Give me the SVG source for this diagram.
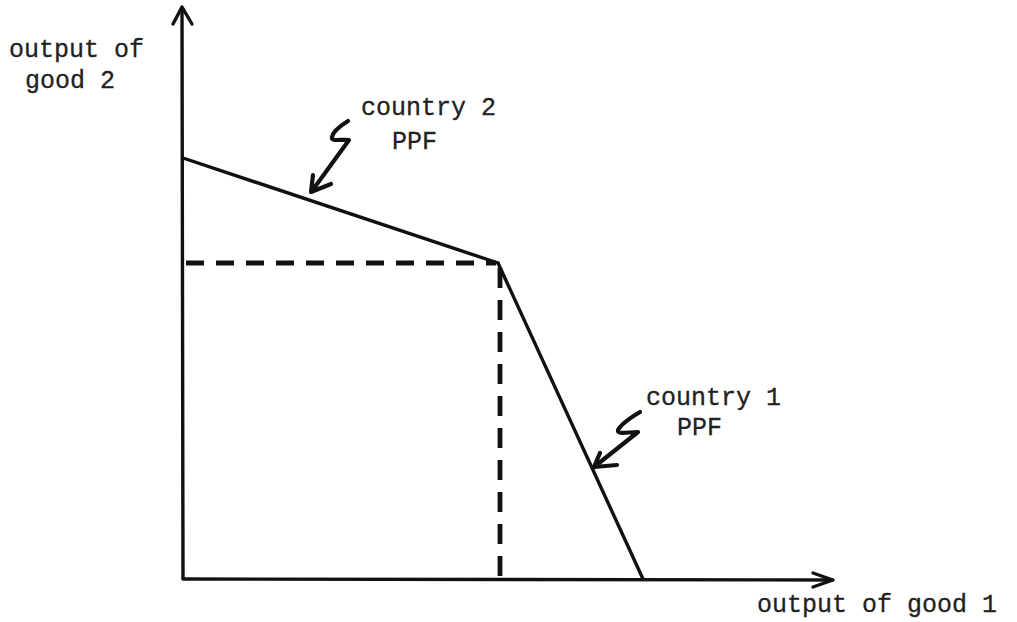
<svg xmlns="http://www.w3.org/2000/svg" width="1017" height="622" viewBox="0 0 1017 622">
<style>
.ln{fill:none;stroke:#111;stroke-width:3.4;stroke-linecap:round;stroke-linejoin:round}
.pt{fill:none;stroke:#111;stroke-width:4.2;stroke-linecap:round;stroke-linejoin:round}
.ds{fill:none;stroke:#111;stroke-width:4.8}
.tx{font-family:"Liberation Mono","Courier New",monospace;font-size:25px;fill:#222;stroke:#222;stroke-width:0.3}
</style>
<rect width="1017" height="622" fill="#fff"/>
<g id="connectors">
<g id="y-axis">
<path class="ln" d="M183,578 L182,8"/>
<path class="ln" d="M173,24 L182,7 L192,24"/>
</g>
<g id="x-axis">
<path class="ln" d="M183,579 L832,580"/>
<path class="ln" d="M813,573 L833,580 L813,587"/>
</g>
<g id="country2-ppf-line"><path class="ln" d="M183,158 L498,263"/></g>
<g id="country1-ppf-line"><path class="ln" d="M498,263 L643,579"/></g>
<g id="dashed-horizontal"><path class="ds" d="M186,263 L496,263" stroke-dasharray="18 12"/></g>
<g id="dashed-vertical"><path class="ds" d="M500,268 L500,576" stroke-dasharray="20 12"/></g>
<g id="pointer-country2">
<path class="pt" d="M348,121 C340,126 333,131 332,137 C331,142 340,139 349,140 L312,191"/>
<path class="pt" d="M313,175 L311,192 L331,184"/>
</g>
<g id="pointer-country1">
<path class="pt" d="M640,412 C630,418 621,424 618,430 C617,435 628,432 638,432 L594,467"/>
<path class="pt" d="M600,453 L594,467 L617,465"/>
</g>
</g>
<g id="label-y-axis">
<text class="tx" x="9" y="57">output of</text>
<text class="tx" x="25" y="88">good 2</text>
</g>
<g id="label-x-axis">
<text class="tx" x="757" y="612">output of good 1</text>
</g>
<g id="label-country2">
<text class="tx" x="361" y="115">country 2</text>
<text class="tx" x="392" y="149">PPF</text>
</g>
<g id="label-country1">
<text class="tx" x="646" y="405">country 1</text>
<text class="tx" x="677" y="435">PPF</text>
</g>
</svg>
